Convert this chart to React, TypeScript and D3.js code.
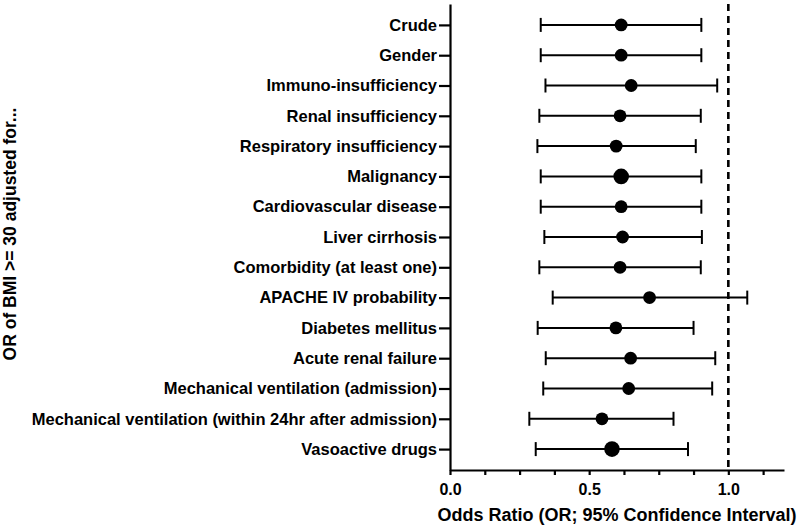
import { useRef, useEffect } from "react";
import * as d3 from "d3";

// Adjustment models (top to bottom)
const categories = [
  "Crude",
  "Gender",
  "Immuno-insufficiency",
  "Renal insufficiency",
  "Respiratory insufficiency",
  "Malignancy",
  "Cardiovascular disease",
  "Liver cirrhosis",
  "Comorbidity (at least one)",
  "APACHE IV probability",
  "Diabetes mellitus",
  "Acute renal failure",
  "Mechanical ventilation (admission)",
  "Mechanical ventilation (within 24hr after admission)",
  "Vasoactive drugs",
];

// odds ratios and 95% CI bounds
const oddsRatio = [0.615, 0.615, 0.651, 0.611, 0.597, 0.615, 0.615, 0.62, 0.611, 0.717, 0.596, 0.649, 0.642, 0.546, 0.582];
const ciLower = [0.326, 0.326, 0.343, 0.321, 0.314, 0.326, 0.326, 0.339, 0.321, 0.369, 0.315, 0.344, 0.335, 0.285, 0.308];
const ciUpper = [0.903, 0.903, 0.96, 0.901, 0.883, 0.903, 0.903, 0.905, 0.901, 1.068, 0.875, 0.953, 0.942, 0.803, 0.855];

// rows drawn with a larger symbol in the original
const largeMarkers = ["Malignancy", "Vasoactive drugs"];

const xTicks = [0, 0.125, 0.25, 0.375, 0.5, 0.625, 0.75, 0.875, 1, 1.125];
const xMax = 1.2;
const reference = 1.0;

export default function App() {
  const svgRef = useRef<SVGSVGElement>(null);

  useEffect(() => {
    if (!svgRef.current) return;
    const svg = d3.select(svgRef.current);
    svg.selectAll("*").remove();

    const width = 800;
    const height = 529;
    const font = "'Liberation Sans', Arial, sans-serif";

    const x = d3.scaleLinear().domain([0, xMax]).range([450, 784]);
    const y = d3.scalePoint().domain(categories).range([4, 470]).padding(0.69);

    const rows = categories.map((c, i) => ({
      name: c,
      or: oddsRatio[i],
      lo: ciLower[i],
      hi: ciUpper[i],
    }));

    // reference line at OR = 1
    svg
      .append("line")
      .attr("x1", x(reference))
      .attr("x2", x(reference))
      .attr("y1", 4)
      .attr("y2", 470)
      .attr("stroke", "#000")
      .attr("stroke-width", 2.6)
      .attr("stroke-dasharray", "7,5");

    // y axis
    const yAxis = svg
      .append("g")
      .attr("transform", `translate(${x(0)},0)`)
      .call(d3.axisLeft(y).tickSize(11).tickSizeOuter(0).tickPadding(2));
    yAxis.select(".domain").attr("stroke-width", 2.2);
    yAxis.selectAll(".tick line").attr("stroke-width", 2.2);
    yAxis
      .selectAll(".tick text")
      .style("font-family", font)
      .style("font-weight", "bold")
      .style("font-size", "16.5px")
      .attr("fill", "#000");

    // x axis
    const xAxis = svg
      .append("g")
      .attr("transform", `translate(0,470)`)
      .call(
        d3
          .axisBottom(x)
          .tickValues(xTicks)
          .tickSize(5)
          .tickSizeOuter(0)
          .tickPadding(9)
          .tickFormat((d) => (Math.abs((Number(d) * 2) % 1) < 1e-9 ? d3.format(".1f")(Number(d)) : "")),
      );
    xAxis.select(".domain").attr("stroke-width", 2.2);
    xAxis.selectAll(".tick line").attr("stroke-width", 2.2);
    xAxis
      .selectAll(".tick text")
      .style("font-family", font)
      .style("font-weight", "bold")
      .style("font-size", "16px")
      .attr("fill", "#000");

    // error bars
    const g = svg.append("g");
    g.selectAll("line.ci")
      .data(rows)
      .join("line")
      .attr("class", "ci")
      .attr("x1", (d) => x(d.lo))
      .attr("x2", (d) => x(d.hi))
      .attr("y1", (d) => y(d.name)!)
      .attr("y2", (d) => y(d.name)!)
      .attr("stroke", "#000")
      .attr("stroke-width", 2);
    g.selectAll("line.caplo")
      .data(rows)
      .join("line")
      .attr("class", "caplo")
      .attr("x1", (d) => x(d.lo))
      .attr("x2", (d) => x(d.lo))
      .attr("y1", (d) => y(d.name)! - 7)
      .attr("y2", (d) => y(d.name)! + 7)
      .attr("stroke", "#000")
      .attr("stroke-width", 2);
    g.selectAll("line.caphi")
      .data(rows)
      .join("line")
      .attr("class", "caphi")
      .attr("x1", (d) => x(d.hi))
      .attr("x2", (d) => x(d.hi))
      .attr("y1", (d) => y(d.name)! - 7)
      .attr("y2", (d) => y(d.name)! + 7)
      .attr("stroke", "#000")
      .attr("stroke-width", 2);
    g.selectAll("circle")
      .data(rows)
      .join("circle")
      .attr("cx", (d) => x(d.or))
      .attr("cy", (d) => y(d.name)!)
      .attr("r", (d) => (largeMarkers.includes(d.name) ? 7.8 : 6.4))
      .attr("fill", "#000");

    // axis titles
    svg
      .append("text")
      .attr("x", (x(0) + x(xMax)) / 2)
      .attr("y", 521)
      .attr("text-anchor", "middle")
      .style("font-family", font)
      .style("font-weight", "bold")
      .style("font-size", "18px")
      .text("Odds Ratio (OR; 95% Confidence Interval)");
    svg
      .append("text")
      .attr("transform", "rotate(-90)")
      .attr("x", -234)
      .attr("y", 16)
      .attr("text-anchor", "middle")
      .style("font-family", font)
      .style("font-weight", "bold")
      .style("font-size", "17.5px")
      .text("OR of BMI >= 30 adjusted for...");

    svg.attr("width", width).attr("height", height);
    return () => {
      svg.selectAll("*").remove();
    };
  }, []);

  return (
    <svg
      ref={svgRef}
      width={800}
      height={529}
      style={{ position: "absolute", left: 0, top: 0, background: "#fff" }}
    />
  );
}
